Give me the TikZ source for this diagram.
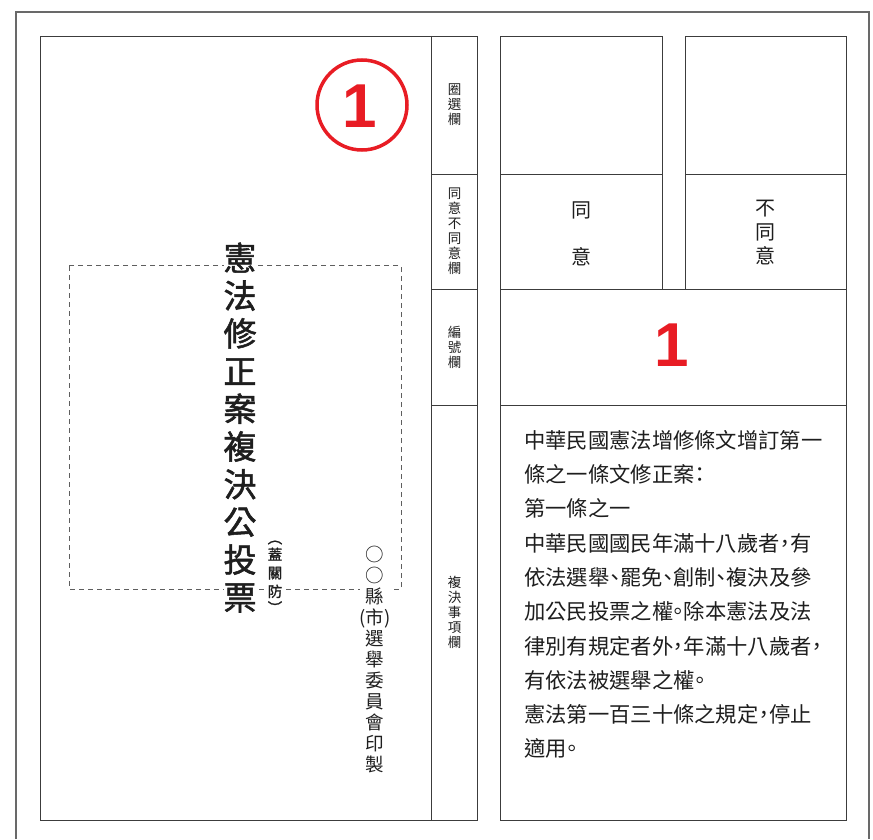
\documentclass[tikz,border=0pt]{standalone}
\usepackage{fontspec}
\usepackage{xcolor}
\usepackage{tikz}
\setmainfont{Noto Sans CJK TC}
\newfontfamily\bodyfont[RawFeature=+halt]{Noto Sans CJK TC}
\newfontfamily\titlefont[FakeBold=1.6]{Noto Sans CJK TC}
\newfontfamily\numfont{Liberation Sans}

\definecolor{ballotred}{RGB}{232,28,36}
\definecolor{rulegray}{RGB}{60,60,60}
\definecolor{framegray}{RGB}{105,105,105}
\definecolor{inkgray}{RGB}{30,30,30}

% stretch between CJK characters, used to justify full lines
\XeTeXinterchartoks 1 1 = {\hskip 0pt plus 1pt\relax}
\XeTeXinterchartoks 1 3 = {\hskip 0pt plus 1pt\relax}
\XeTeXinterchartoks 3 1 = {\hskip 0pt plus 1pt\relax}
\XeTeXinterchartoks 3 3 = {\hskip 0pt plus 1pt\relax}
\newcommand{\fullline}[1]{\makebox[14em][s]{#1}}
\newcommand{\stretchon}{\XeTeXinterchartokenstate=1\relax}

\begin{document}
\begin{tikzpicture}[
        x=1pt, y=-1pt,
        rule/.style={draw=rulegray, line width=0.9pt},
        frame/.style={draw=framegray, line width=1.3pt},
        cutline/.style={draw=framegray!90!black, line width=1pt, dash pattern=on 5pt off 4pt},
        tag/.style={inner sep=0pt, align=center, text=inkgray, font=\fontsize{13.5}{15}\selectfont},
        choice/.style={inner sep=0pt, align=center, text=inkgray},
        rednum/.style={inner sep=0pt, text=ballotred, font=\numfont\bfseries\fontsize{62}{62}\selectfont},
        stack/.style={inner sep=0pt, align=center, text=inkgray, fill=white}
    ]
        \fill[white] (0,0) rectangle (873,839);

        % ========== OUTER FRAME ==========
        \draw[frame] (16,839) -- (16,12) -- (869,12) -- (869,839);

        % ========== LEFT PANEL ==========
        \draw[rule] (40,36) rectangle (477,820);
        \draw[rule] (431.5,36) -- (431.5,820);
        \draw[rule] (431.5,174) -- (477,174);
        \draw[rule] (431.5,289.5) -- (477,289.5);
        \draw[rule] (431.5,405) -- (477,405);

        \draw[cutline] (69,266) rectangle (401,589);

        % ========== RIGHT PANEL ==========
        \draw[rule] (500,36) rectangle (662,289.5);
        \draw[rule] (685,36) rectangle (846,289.5);
        \draw[rule] (500,174) -- (662,174);
        \draw[rule] (685,174) -- (846,174);
        \draw[rule] (500,289.5) rectangle (846,820);
        \draw[rule] (500,405) -- (846,405);

        % ========== BALLOT NUMBER ==========
        \draw[ballotred, line width=3.5pt] (362,105) circle[radius=45pt];
        \node[rednum] (ballotNo) at (360,106) {1};
        \node[rednum] (itemNo) at (672,345) {1};

        % ========== COLUMN TAGS ==========
        \node[tag] (tagCircle) at (454.5,105) {圈\\選\\欄};
        \node[tag] (tagVote) at (454.5,231.5) {同\\意\\不\\同\\意\\欄};
        \node[tag] (tagNumber) at (454.5,347) {編\\號\\欄};
        \node[tag] (tagItem) at (454.5,612) {複\\決\\事\\項\\欄};

        % ========== CHOICES ==========
        \node[choice, font=\fontsize{20}{47}\selectfont] (agreeText) at (581,233.5) {同\\意};
        \node[choice, font=\fontsize{20}{24}\selectfont] (disagreeText) at (765,233) {不\\同\\意};

        % ========== TITLE AND NOTES ==========
        \node[stack, font=\titlefont\fontsize{33}{37.7}\selectfont] (titleText) at (240,427.5)
            {憲\\法\\修\\正\\案\\複\\決\\公\\投\\票};
        \node[stack, font=\titlefont\fontsize{14.5}{18.5}\selectfont] (sealNote) at (275,577)
            {︵\\[-2pt]蓋\\關\\防\\[-2pt]︶};
        \node[stack, font=\fontsize{18.5}{21}\selectfont] (printerNote) at (375,660)
            {○\\○\\縣\\(市)\\選\\舉\\委\\員\\會\\印\\製};

        % ========== ITEM TEXT ==========
        \node[anchor=north west, inner sep=0pt, align=left, text=inkgray,
              font={\bodyfont\fontsize{21.3}{34.3}\selectfont\stretchon}] (articleText) at (524,430)
            {\fullline{中華民國憲法增修條文增訂第一}\\
             條之一條文修正案：\\
             第一條之一\\
             \fullline{中華民國國民年滿十八歲者，有}\\
             \fullline{依法選舉、罷免、創制、複決及參}\\
             \fullline{加公民投票之權。除本憲法及法}\\
             \fullline{律別有規定者外，年滿十八歲者，}\\
             有依法被選舉之權。\\
             \fullline{憲法第一百三十條之規定，停止}\\
             適用。};

    \end{tikzpicture}
\end{document}
